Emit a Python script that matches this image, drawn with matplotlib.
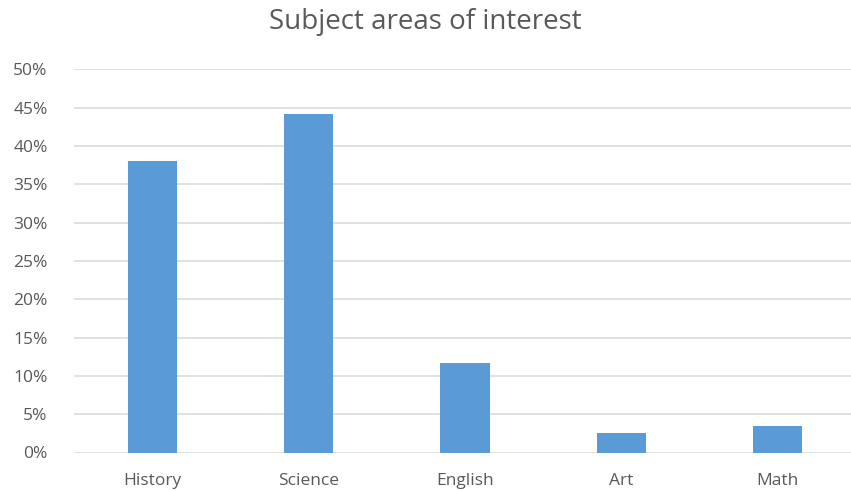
import matplotlib
matplotlib.use("Agg")
import matplotlib.pyplot as plt
from matplotlib.ticker import PercentFormatter, MultipleLocator

categories = ["History", "Science", "English", "Art", "Math"]
values = [0.381, 0.442, 0.117, 0.025, 0.035]

plt.rcParams['font.family'] = ['Open Sans', 'DejaVu Sans']
fig = plt.figure(figsize=(8.51, 4.91), dpi=100)
ax = fig.add_axes([74/851, (491-452.5)/491, 782/851, (452.5-69.3)/491])

x = range(len(categories))
ax.bar(x, values, width=0.315, color="#5B9BD5", zorder=3)
ax.set_xlim(-0.5, len(categories) - 0.5)
ax.set_ylim(0, 0.5)
ax.yaxis.set_major_locator(MultipleLocator(0.05))
ax.yaxis.set_major_formatter(PercentFormatter(1.0, decimals=0))
ax.set_xticks(list(x))
ax.set_xticklabels(categories)
ax.grid(axis='y', color="#D9D9D9", linewidth=1.1, zorder=0)
for s in ax.spines.values():
    s.set_visible(False)
ax.tick_params(axis='both', length=0, colors="#595959", labelsize=12.5)
ax.tick_params(axis='y', pad=19)
ax.tick_params(axis='x', pad=15)
fig.text(0.5, 1 - 22/491, "Subject areas of interest", ha='center', va='center',
         fontsize=20, color="#595959")
fig.savefig("out.png", dpi=100)
